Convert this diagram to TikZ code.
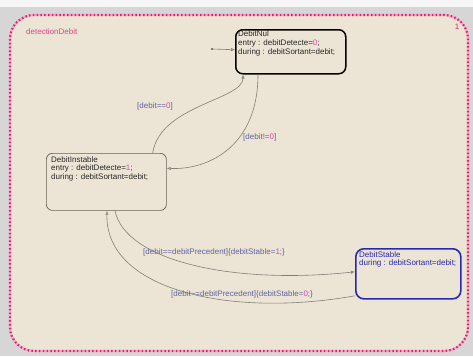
\documentclass[tikz,border=0pt]{standalone}
\usepackage{fontspec}
\setmainfont{Liberation Sans}
\usetikzlibrary{arrows.meta}

\definecolor{chartbg}{RGB}{236,228,212}
\definecolor{outerbg}{RGB}{214,214,214}
\definecolor{topstrip}{RGB}{246,246,246}
\definecolor{chartpink}{RGB}{214,40,110}
\definecolor{pinkhalo}{RGB}{246,170,205}
\definecolor{transgray}{RGB}{128,128,122}
\definecolor{condtxt}{RGB}{96,98,160}
\definecolor{numtxt}{RGB}{222,70,170}
\definecolor{activeblue}{RGB}{40,40,176}
\definecolor{statetxt}{RGB}{40,40,40}
\definecolor{instgray}{RGB}{100,96,84}

% coloured numeric literal inside actions and conditions
\newcommand{\nmb}[1]{\textcolor{numtxt}{#1}}

\begin{document}
\begin{tikzpicture}[x=1pt,y=-1pt,
  every node/.style={font=\fontsize{8}{8.6}\selectfont, inner sep=0pt},
  statetext/.style={anchor=north west, align=left, text=statetxt},
  cond/.style={anchor=west, text=condtxt},
  transline/.style={draw=transgray, line width=0.6pt,
    -{Latex[length=4pt,width=3.4pt,open]}},
  chartframe/.style={rounded corners=24pt}]

\useasboundingbox (0,0) rectangle (473,356);

% window background
\fill[outerbg] (0,0) rectangle (473,356);
\fill[topstrip] (0,0) rectangle (473,7);

% chart area with dotted frame
\fill[chartbg, chartframe] (10,15) rectangle (468,351);
\draw[pinkhalo, line width=2.2pt, chartframe] (10,15) rectangle (468,351);
\draw[chartpink, line width=2.2pt, dash pattern=on 1.5pt off 2.3pt, chartframe]
  (10,15) rectangle (468,351);

\node[anchor=west, text=chartpink!85!white] (chartname) at (26,32) {detectionDebit};
\node[text=chartpink] (chartnum) at (457,27) {1};

% states
\node[draw=black, line width=1.5pt, rounded corners=7pt, fill=chartbg,
  minimum width=110pt, minimum height=44pt, anchor=north west] (nul) at (235,29) {};
\node[statetext] (nultxt) at ([xshift=3pt,yshift=-2pt]nul.north west)
  {DebitNul\\entry : debitDetecte=\nmb{0};\\during : debitSortant=debit;};

\node[draw=instgray, line width=0.7pt, rounded corners=6pt, fill=chartbg,
  minimum width=120pt, minimum height=57pt, anchor=north west] (inst) at (46,153) {};
\node[statetext] (insttxt) at ([xshift=5pt,yshift=-3pt]inst.north west)
  {DebitInstable\\entry : debitDetecte=\nmb{1};\\during : debitSortant=debit;};

\node[draw=activeblue, line width=1.6pt, rounded corners=8pt, fill=chartbg,
  minimum width=105pt, minimum height=50pt, anchor=north west] (stab) at (355,248) {};
\node[statetext, text=activeblue] (stabtxt) at ([xshift=4pt,yshift=-3pt]stab.north west)
  {DebitStable\\during : debitSortant=debit;};

% default transition
\coordinate (dflt) at (212,49);
\fill[transgray!70!black] (dflt) circle (1.1pt);
\draw[transline] (dflt) -- ([yshift=2pt]nul.west);

% transitions
\draw[transline] ([xshift=-14pt]inst.north east)
  .. controls (160,105) and (243,100) .. ([xshift=8pt]nul.south west);
\draw[transline] ([xshift=23pt]nul.south west)
  .. controls (258,145) and (210,170) .. ([yshift=13.5pt]inst.east);
\draw[transline] ([xshift=69pt]inst.south west)
  .. controls (125,260) and (230,285) .. ([yshift=2pt]stab.west);
\draw[transline] ([yshift=-22pt]stab.west)
  .. controls (230,318) and (105,290) .. ([xshift=61pt]inst.south west);

% transition labels
\node[cond] (c1) at (137,106) {[debit==\nmb{0}]};
\node[cond] (c2) at (243,137) {[debit!=\nmb{0}]};
\node[cond] (c3) at (143,252) {[debit==debitPrecedent]\{debitStable=\nmb{1};\}};
\node[cond] (c4) at (171,294) {[debit\textasciitilde=debitPrecedent]\{debitStable=\nmb{0};\}};

\end{tikzpicture}
\end{document}
